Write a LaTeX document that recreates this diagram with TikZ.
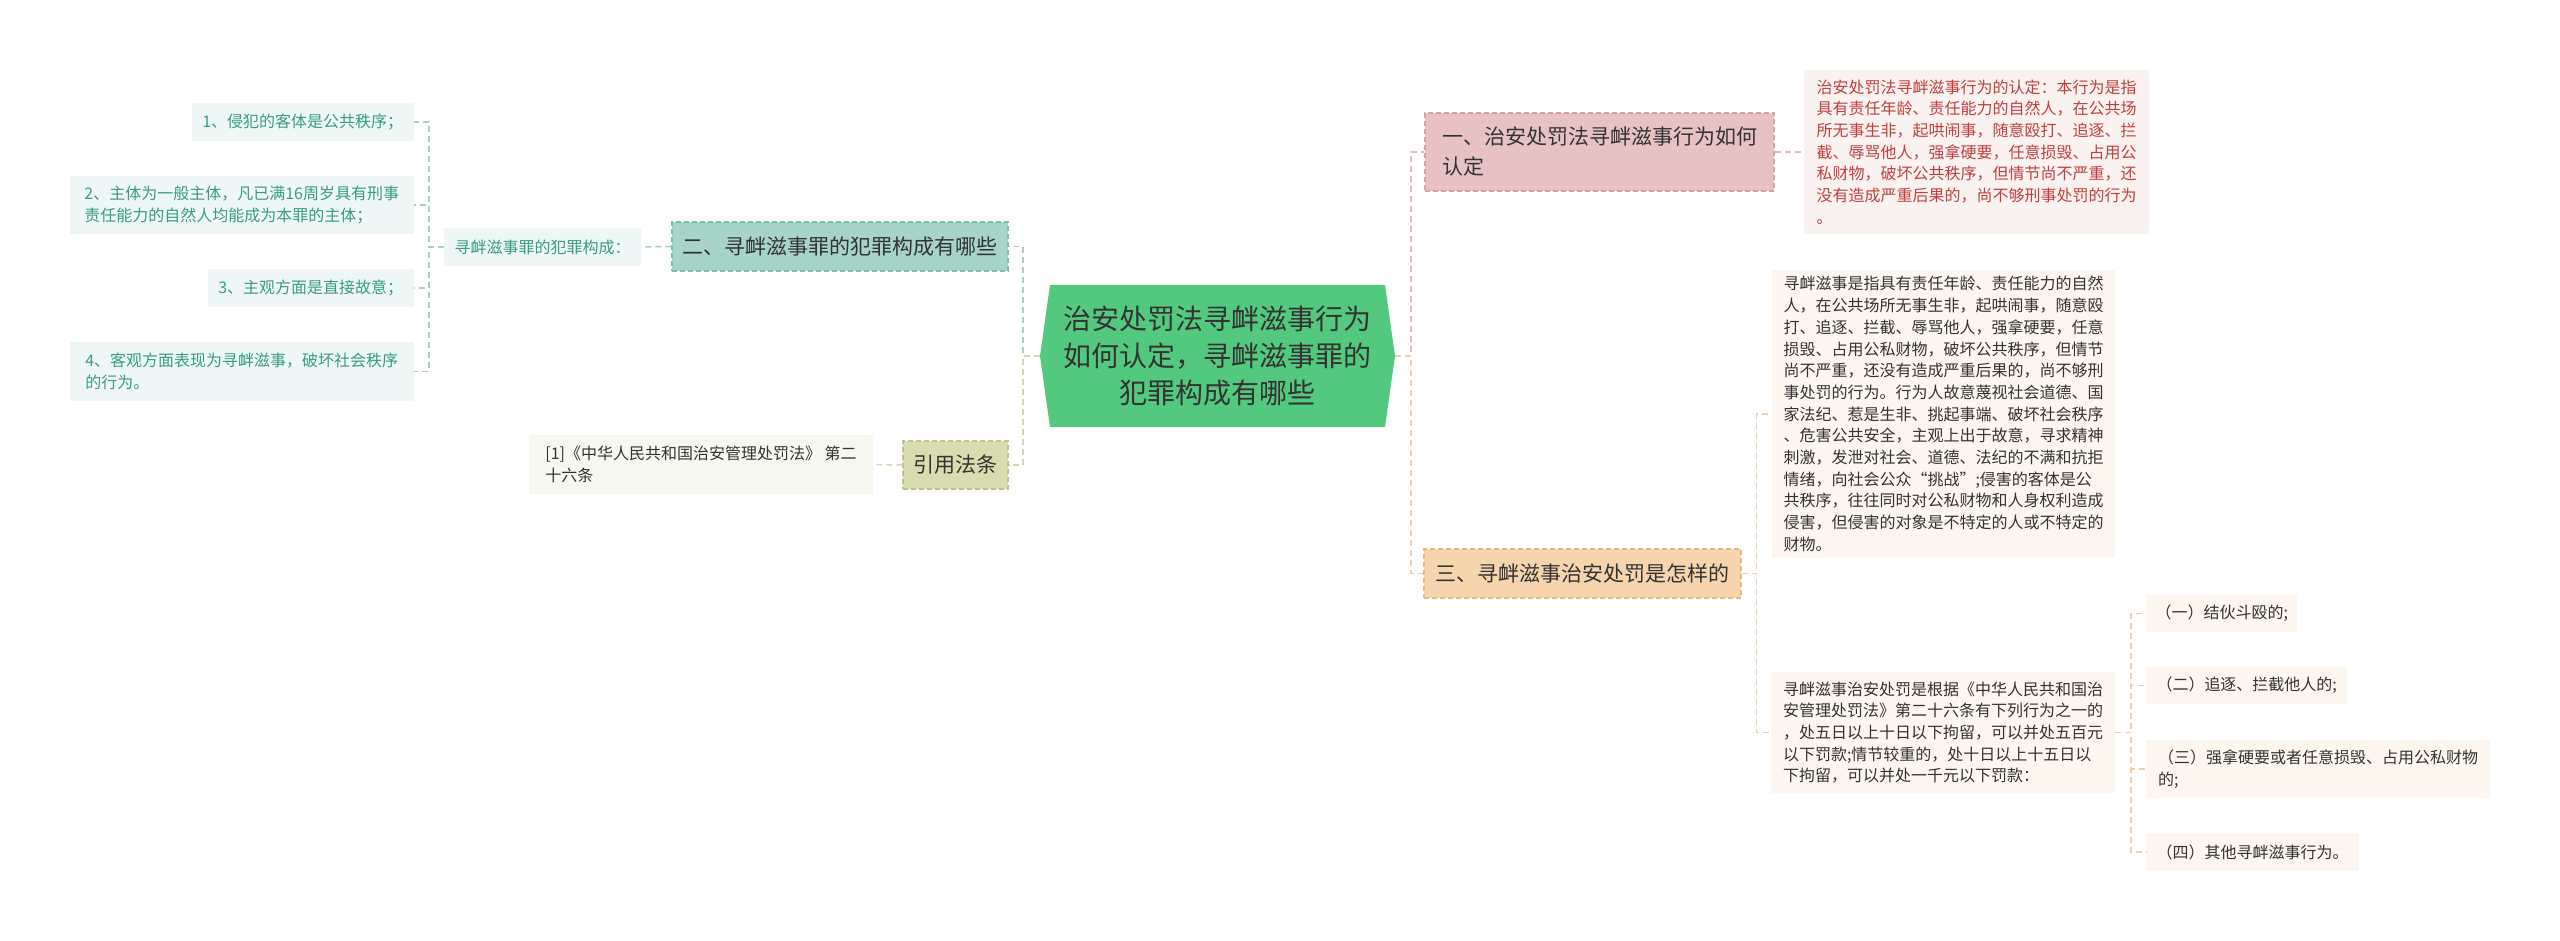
\documentclass[tikz,border=0pt]{standalone}
\usepackage{fontspec}
\setmainfont{Noto Sans CJK SC}
\usetikzlibrary{shapes.symbols}
\definecolor{cgreen}{HTML}{53C97F}
\definecolor{tealfill}{HTML}{A7D4C8}
\definecolor{tealdraw}{HTML}{7EBDAD}
\definecolor{tealleaf}{HTML}{EEF7F5}
\definecolor{tealtext}{HTML}{3A9A84}
\definecolor{tealline}{HTML}{A9CFC5}
\definecolor{olivefill}{HTML}{D9DCAE}
\definecolor{olivedraw}{HTML}{BEC28A}
\definecolor{oliveleaf}{HTML}{F6F7EF}
\definecolor{oliveline}{HTML}{D6D7AB}
\definecolor{pinkfill}{HTML}{E8C2C2}
\definecolor{pinkdraw}{HTML}{D6A2A2}
\definecolor{pinkleaf}{HTML}{FAF1F1}
\definecolor{pinkline}{HTML}{E2BDBD}
\definecolor{redtext}{HTML}{C0403F}
\definecolor{peachfill}{HTML}{F6D4AE}
\definecolor{peachdraw}{HTML}{E6B884}
\definecolor{peachleaf}{HTML}{FCF6EF}
\definecolor{peachline}{HTML}{EDD0AC}
\definecolor{darktext}{HTML}{333333}
\tikzset{
  leafbox/.style={inner sep=0pt, align=left, text=darktext, font=\fontsize{16}{21.7}\selectfont},
  mainbox/.style={inner sep=0pt, align=left, text=darktext, line width=1.2pt, dash pattern=on 5pt off 3pt, font=\fontsize{21}{30}\selectfont},
  conn/.style={line width=1.5pt, dash pattern=on 6pt off 4pt},
}
\begin{document}
\begin{tikzpicture}[x=1pt,y=-1pt]
\useasboundingbox (0,0) rectangle (2560,941);
\fill[white] (0,0) rectangle (2560,941);

% central
\node[signal, signal to=east and west, signal pointer angle=164, fill=cgreen, inner sep=0pt,
  minimum width=355pt, minimum height=142pt, align=center, text=darktext,
  font=\fontsize{28}{36.7}\selectfont] (c) at (1217.5,356)
  {治安处罚法寻衅滋事行为\\如何认定，寻衅滋事罪的\\犯罪构成有哪些};

% left branch 二
\node[mainbox, fill=tealfill, draw=tealdraw, minimum width=336pt, minimum height=49pt] (n2) at (840,246.5) {二、寻衅滋事罪的犯罪构成有哪些};
\node[leafbox, fill=tealleaf, text=tealtext, minimum width=197pt, minimum height=38pt] (k) at (542.5,247) {寻衅滋事罪的犯罪构成：};
\node[leafbox, fill=tealleaf, text=tealtext, minimum width=222pt, minimum height=38pt, anchor=east] (l1) at (414,122) {1、侵犯的客体是公共秩序；};
\node[leafbox, fill=tealleaf, text=tealtext, minimum width=344pt, minimum height=58pt, anchor=east] (l2) at (414,205) {2、主体为一般主体，凡已满16周岁具有刑事\\责任能力的自然人均能成为本罪的主体；};
\node[leafbox, fill=tealleaf, text=tealtext, minimum width=206pt, minimum height=38pt, anchor=east] (l3) at (414,288) {3、主观方面是直接故意；};
\node[leafbox, fill=tealleaf, text=tealtext, minimum width=344pt, minimum height=59pt, anchor=east] (l4) at (414,371.5) {4、客观方面表现为寻衅滋事，破坏社会秩序\\的行为。};

% left branch 引用法条
\node[mainbox, fill=olivefill, draw=olivedraw, minimum width=105pt, minimum height=48pt] (ref) at (955.5,465) {引用法条};
\node[leafbox, fill=oliveleaf, minimum width=344pt, minimum height=59pt] (refl) at (701,464.5) {[1]《中华人民共和国治安管理处罚法》 第二\\十六条};

% right branch 一
\node[mainbox, fill=pinkfill, draw=pinkdraw, minimum width=349pt, minimum height=78pt] (n1) at (1599.5,152) {一、治安处罚法寻衅滋事行为如何\\认定};
\node[leafbox, fill=pinkleaf, text=redtext, minimum width=345pt, minimum height=164pt] (r1) at (1976.5,152) {治安处罚法寻衅滋事行为的认定：本行为是指\\具有责任年龄、责任能力的自然人，在公共场\\所无事生非，起哄闹事，随意殴打、追逐、拦\\截、辱骂他人，强拿硬要，任意损毁、占用公\\私财物，破坏公共秩序，但情节尚不严重，还\\没有造成严重后果的，尚不够刑事处罚的行为\\。};

% right branch 三
\node[mainbox, fill=peachfill, draw=peachdraw, minimum width=317pt, minimum height=49pt] (n3) at (1582.5,573.5) {三、寻衅滋事治安处罚是怎样的};
\node[leafbox, fill=peachleaf, minimum width=343pt, minimum height=288pt] (b1) at (1943.5,414) {寻衅滋事是指具有责任年龄、责任能力的自然\\人，在公共场所无事生非，起哄闹事，随意殴\\打、追逐、拦截、辱骂他人，强拿硬要，任意\\损毁、占用公私财物，破坏公共秩序，但情节\\尚不严重，还没有造成严重后果的，尚不够刑\\事处罚的行为。行为人故意蔑视社会道德、国\\家法纪、惹是生非、挑起事端、破坏社会秩序\\、危害公共安全，主观上出于故意，寻求精神\\刺激，发泄对社会、道德、法纪的不满和抗拒\\情绪，向社会公众“挑战”;侵害的客体是公\\共秩序，往往同时对公私财物和人身权利造成\\侵害，但侵害的对象是不特定的人或不特定的\\财物。};
\node[leafbox, fill=peachleaf, minimum width=344pt, minimum height=121pt] (b2) at (1943,732.5) {寻衅滋事治安处罚是根据《中华人民共和国治\\安管理处罚法》第二十六条有下列行为之一的\\，处五日以上十日以下拘留，可以并处五百元\\以下罚款;情节较重的，处十日以上十五日以\\下拘留，可以并处一千元以下罚款：};
\node[leafbox, fill=peachleaf, minimum width=151pt, minimum height=37pt, anchor=west] (i1) at (2146,613.5) {（一）结伙斗殴的;};
\node[leafbox, fill=peachleaf, minimum width=201pt, minimum height=37pt, anchor=west] (i2) at (2146,685.5) {（二）追逐、拦截他人的;};
\node[leafbox, fill=peachleaf, minimum width=344pt, minimum height=58pt, anchor=west] (i3) at (2146,769) {（三）强拿硬要或者任意损毁、占用公私财物\\的;};
\node[leafbox, fill=peachleaf, minimum width=213pt, minimum height=38pt, anchor=west] (i4) at (2146,852) {（四）其他寻衅滋事行为。};

% connectors left
\draw[conn, draw=tealline] (c.west) -- ++(-17,0) |- (n2.east);
\draw[conn, draw=oliveline] (c.west) -- ++(-17,0) |- (ref.east);
\draw[conn, draw=tealline] (n2.west) -- (k.east);
\foreach \l in {l1,l2,l3,l4}
  \draw[conn, draw=tealline] (k.west) -- ++(-15,0) |- (\l.east);
\draw[conn, draw=oliveline] (ref.west) -- (refl.east);

% connectors right
\draw[conn, draw=pinkline] (c.east) -- ++(16,0) |- (n1.west);
\draw[conn, draw=peachline] (c.east) -- ++(16,0) |- (n3.west);
\draw[conn, draw=pinkline] (n1.east) -- (r1.west);
\draw[conn, draw=peachline] (n3.east) -- ++(15,0) |- (b1.west);
\draw[conn, draw=peachline] (n3.east) -- ++(15,0) |- (b2.west);
\foreach \i in {i1,i2,i3,i4}
  \draw[conn, draw=peachline] (b2.east) -- ++(16,0) |- (\i.west);
\end{tikzpicture}
\end{document}
